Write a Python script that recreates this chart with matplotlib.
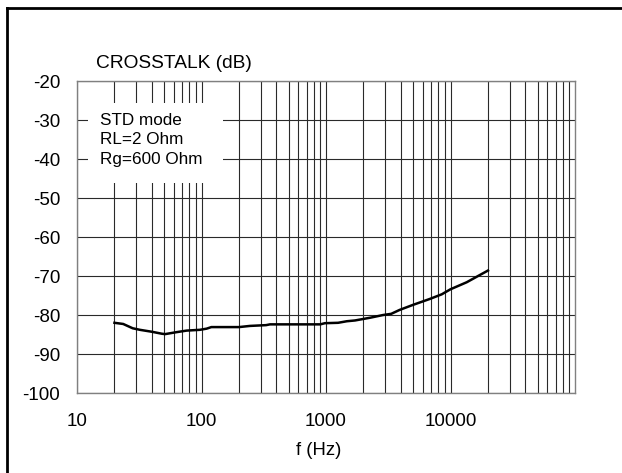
import matplotlib
matplotlib.use("Agg")
import matplotlib.pyplot as plt
from matplotlib.ticker import LogLocator, FixedLocator, FixedFormatter, NullFormatter
from matplotlib.lines import Line2D
from matplotlib.patches import Rectangle

plt.rcParams['font.family'] = ['Liberation Sans', 'DejaVu Sans']

# Data
freq_hz = [20, 23.5, 28, 32, 40, 48, 51, 63, 76, 97, 110, 120, 200, 245, 330, 355,
           510, 900, 980, 1250, 1470, 1710, 2260, 2880, 3340, 3900, 5000, 6800,
           8500, 10000, 13500, 20000]
crosstalk_db = [-82.0, -82.3, -83.4, -83.8, -84.3, -84.8, -84.9, -84.4, -84.0, -83.8,
                -83.5, -83.1, -83.1, -82.8, -82.6, -82.4, -82.4, -82.4, -82.1, -82.0,
                -81.6, -81.4, -80.7, -80.0, -79.7, -78.7, -77.4, -75.9, -74.7, -73.4,
                -71.6, -68.6]
x_ticks = [10, 100, 1000, 10000]
x_tick_labels = ["10", "100", "1000", "10000"]
y_ticks = [-20, -30, -40, -50, -60, -70, -80, -90, -100]
y_tick_labels = ["-20", "-30", "-40", "-50", "-60", "-70", "-80", "-90", "-100"]
note_lines = ["STD mode", "RL=2 Ohm", "Rg=600 Ohm"]

W, H = 622, 473
fig = plt.figure(figsize=(W / 100, H / 100), dpi=100)
L, R, T, B = 77, 575, 81, 393
ax = fig.add_axes([L / W, 1 - B / H, (R - L) / W, (B - T) / H])

ax.set_xscale('log')
ax.set_xlim(10, 100000)
ax.set_ylim(-100, -20)

ax.xaxis.set_major_locator(FixedLocator(x_ticks))
ax.xaxis.set_major_formatter(FixedFormatter(x_tick_labels))
ax.xaxis.set_minor_locator(LogLocator(base=10, subs=range(2, 10), numticks=20))
ax.xaxis.set_minor_formatter(NullFormatter())
ax.yaxis.set_major_locator(FixedLocator(y_ticks))
ax.yaxis.set_major_formatter(FixedFormatter(y_tick_labels))

ax.tick_params(axis='both', which='both', length=0, labelsize=13.5)
ax.tick_params(axis='x', pad=14.5)
ax.tick_params(axis='y', pad=12.2)

gcol = '#2a2a2a'
ax.grid(True, which='major', axis='both', color=gcol, linewidth=0.8)
ax.grid(True, which='minor', axis='x', color=gcol, linewidth=0.8)
ax.set_axisbelow(True)

for s in ax.spines.values():
    s.set_color('#808080')
    s.set_linewidth(1.0)

ax.plot(freq_hz, crosstalk_db, color='black', linewidth=1.8, zorder=3)

# white note box hiding the grid
bx0, bx1, by0, by1 = 88, 223, 103, 183
ax.add_patch(Rectangle(((bx0 - L) / (R - L), (B - by1) / (B - T)),
                       (bx1 - bx0) / (R - L), (by1 - by0) / (B - T),
                       transform=ax.transAxes, facecolor='white', edgecolor='none', zorder=2))
for i, line in enumerate(note_lines):
    yc = 120 + i * 19.5
    ax.text((100 - L) / (R - L), (B - yc) / (B - T), line, transform=ax.transAxes,
            ha='left', va='center', fontsize=12.3, zorder=4)

fig.text(96 / W, 1 - 63 / H, "CROSSTALK (dB)", ha='left', va='center', fontsize=13.8)
fig.text(319 / W, 1 - 450 / H, "f (Hz)", ha='center', va='center', fontsize=13.3)

# frame lines at top and left of the figure
fig.add_artist(Line2D([7 / W, 1], [1 - 8 / H, 1 - 8 / H], transform=fig.transFigure,
                      color='black', linewidth=2))
fig.add_artist(Line2D([7 / W, 7 / W], [0, 1 - 8 / H], transform=fig.transFigure,
                      color='black', linewidth=2))

fig.savefig("out.png", dpi=100)
